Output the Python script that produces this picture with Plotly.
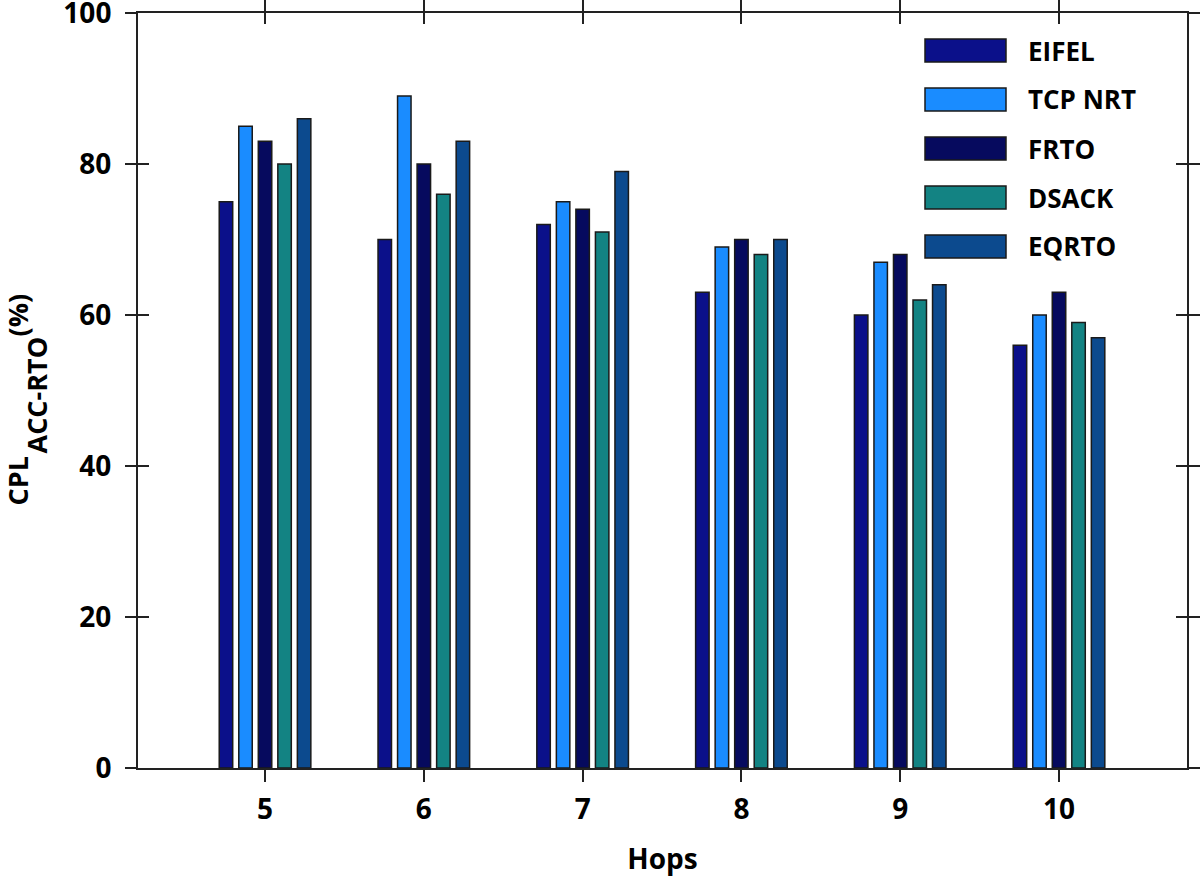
import plotly.graph_objects as go

hops = [5, 6, 7, 8, 9, 10]
series_names = ["EIFEL", "TCP NRT", "FRTO", "DSACK", "EQRTO"]
eifel = [75, 70, 72, 63, 60, 56]
tcp_nrt = [85, 89, 75, 69, 67, 60]
frto = [83, 80, 74, 70, 68, 63]
dsack = [80, 76, 71, 68, 62, 59]
eqrto = [86, 83, 79, 70, 64, 57]
colors = ["#0b108a", "#1a8cff", "#060a5e", "#138383", "#0c4a8e"]
y_ticks = [0, 20, 40, 60, 80, 100]
y_title_parts = ["CPL", "ACC-RTO", "(%)"]

series_values = [eifel, tcp_nrt, frto, dsack, eqrto]

FONT = "Open Sans"
fig = go.Figure()
for name, vals, col in zip(series_names, series_values, colors):
    fig.add_trace(go.Bar(x=hops, y=vals, name=name, marker=dict(color=col, line=dict(color="#1a1a1a", width=1.5)),
                         showlegend=False))

# invisible traces to anchor extra tick axes
for xa, ya in [("x2", "y"), ("x3", "y"), ("x", "y2"), ("x", "y3"), ("x", "y4")]:
    fig.add_trace(go.Scatter(x=[None], y=[None], xaxis=xa, yaxis=ya, showlegend=False, hoverinfo="skip"))

xr = [4.2, 10.806]
yr = [0, 100]
common_x = dict(range=xr, tickvals=hops, showgrid=False, zeroline=False, tickcolor="#222", tickwidth=2, automargin=False)
common_y = dict(range=yr, tickvals=y_ticks, showgrid=False, zeroline=False, tickcolor="#222", tickwidth=2, automargin=False)

fig.update_layout(
    width=1200, height=882,
    paper_bgcolor="white", plot_bgcolor="white",
    margin=dict(l=138, r=13, t=13, b=114, autoexpand=False),
    barmode="group", bargap=0.385, bargroupgap=0.31,
    font=dict(family=FONT, color="black"),
    xaxis=dict(**common_x, ticks="outside", ticklen=12, showline=True, linecolor="#222", linewidth=2,
               tickfont=dict(size=28, family=FONT, weight="bold"), ticklabelstandoff=3,
               ticklabeloverflow="allow",
               title=dict(text="<b>Hops</b>", font=dict(size=28, family=FONT), standoff=24)),
    xaxis2=dict(**common_x, overlaying="x", side="top", anchor="y", ticks="outside", ticklen=11,
                showticklabels=False, showline=True, linecolor="#222", linewidth=2),
    xaxis3=dict(**common_x, overlaying="x", side="top", anchor="y", ticks="inside", ticklen=11,
                showticklabels=False, showline=False),
    yaxis=dict(**common_y, ticks="outside", ticklen=11, showline=True, linecolor="#222", linewidth=2,
               tickfont=dict(size=28, family=FONT, weight="bold"), ticklabelstandoff=8,
               ticklabeloverflow="allow"),
    yaxis2=dict(**common_y, overlaying="y", side="left", anchor="x", ticks="inside", ticklen=11,
                showticklabels=False, showline=False),
    yaxis3=dict(**common_y, overlaying="y", side="right", anchor="x", ticks="outside", ticklen=11,
                showticklabels=False, showline=True, linecolor="#222", linewidth=2),
    yaxis4=dict(**common_y, overlaying="y", side="right", anchor="x", ticks="inside", ticklen=11,
                showticklabels=False, showline=False),
)

plot_w = 1200 - 138 - 13
plot_h = 882 - 13 - 114
def px_x(p):
    return (p - 138) / plot_w
def px_y(p):
    return (882 - 114 - p) / plot_h

# y-axis title: "CPL" with full-size lowered subscript "ACC-RTO", then "(%)"
title_font = dict(size=27, family=FONT, color="black")
fig.add_annotation(xref="paper", yref="paper", x=px_x(17), y=px_y(508), xanchor="center", yanchor="bottom",
                   textangle=-90, showarrow=False, text="<b>%s</b>" % y_title_parts[0], font=title_font)
fig.add_annotation(xref="paper", yref="paper", x=px_x(36), y=px_y(456), xanchor="center", yanchor="bottom",
                   textangle=-90, showarrow=False, text="<b>%s</b>" % y_title_parts[1], font=title_font)
fig.add_annotation(xref="paper", yref="paper", x=px_x(17), y=px_y(339), xanchor="center", yanchor="bottom",
                   textangle=-90, showarrow=False, text="<b>%s</b>" % y_title_parts[2], font=title_font)

# custom legend (wide swatches like reference)
for i, (name, col) in enumerate(zip(series_names, colors)):
    top = 39 + i * 49
    fig.add_shape(type="rect", xref="paper", yref="paper",
                  x0=px_x(925), x1=px_x(1006), y0=px_y(top + 23), y1=px_y(top),
                  fillcolor=col, line=dict(color="#1a1a1a", width=1.5))
    fig.add_annotation(xref="paper", yref="paper", x=px_x(1026), y=px_y(top + 11.5),
                       xanchor="left", yanchor="middle", showarrow=False,
                       text="<b>%s</b>" % name, font=dict(size=26, family=FONT, color="black"))

fig.write_html("out.html", config={"displayModeBar": False}, post_script="document.body.style.margin='0';")
